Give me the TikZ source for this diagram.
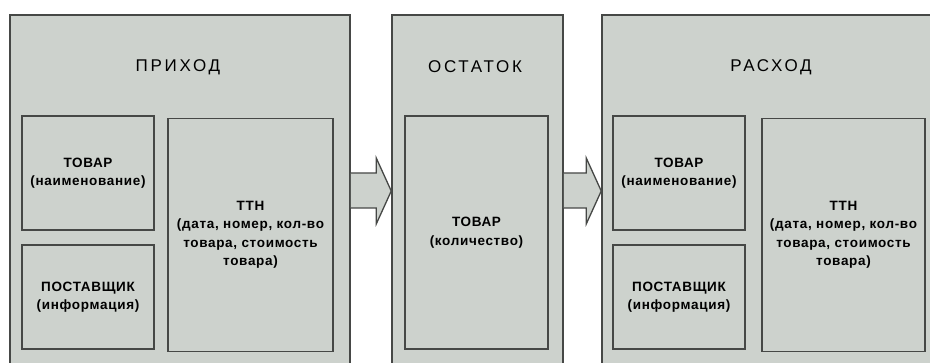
\documentclass[tikz,border=0pt]{standalone}
\usepackage{fontspec}
\setmainfont{Liberation Sans}
\usetikzlibrary{calc}
\definecolor{boxfill}{RGB}{205,210,205}
\definecolor{boxline}{RGB}{70,72,70}
\tikzset{
  outerbox/.style={draw=boxline,fill=boxfill,line width=1.5pt,inner sep=0pt},
  innerbox/.style={draw=boxline,fill=boxfill,line width=1.5pt,inner sep=0pt,align=center,
     font=\fontsize{13.5}{18.5}\selectfont\bfseries\addfontfeatures{LetterSpace=5}},
  titletext/.style={inner sep=0pt,font=\fontsize{17}{20}\selectfont\addfontfeatures{LetterSpace=16}},
  blockarrow/.style={draw=boxline,fill=boxfill,line width=1.3pt,line join=miter}
}
\begin{document}
\begin{tikzpicture}[x=1pt,y=1pt]
\path[fill=white] (0,0) rectangle (930,-363);
\useasboundingbox (0,0) rectangle (930,-363);
\clip (0,0) rectangle (930,-363);
% outer boxes
\node[outerbox,minimum width=340,minimum height=385] (prihod) at (180,-207.5) {};
\node[outerbox,minimum width=171,minimum height=385] (ostatok) at (477.5,-207.5) {};
\node[outerbox,minimum width=340,minimum height=385] (rashod) at (772,-207.5) {};
% titles
\node[titletext] (t1) at (178,-67) {ПРИХОД};
\node[titletext] (t2) at (475,-67) {ОСТАТОК};
\node[titletext] (t3) at (771,-67) {РАСХОД};
% inner boxes, left
\node[innerbox,minimum width=132,minimum height=114] (tov1) at (88,-173) {ТОВАР\\(наименование)};
\node[innerbox,minimum width=132,minimum height=104] (post1) at (88,-297) {ПОСТАВЩИК\\(информация)};
\node[innerbox,minimum width=165,minimum height=233] (ttn1) at (250.5,-235) {ТТН\\(дата, номер, кол-во\\товара, стоимость\\товара)};
% middle
\node[innerbox,minimum width=143,minimum height=233] (ost) at (476.5,-232.5) {ТОВАР\\(количество)};
% right
\node[innerbox,minimum width=132,minimum height=114] (tov3) at (679,-173) {ТОВАР\\(наименование)};
\node[innerbox,minimum width=132,minimum height=104] (post3) at (679,-297) {ПОСТАВЩИК\\(информация)};
\node[innerbox,minimum width=163,minimum height=233] (ttn3) at (843.5,-235) {ТТН\\(дата, номер, кол-во\\товара, стоимость\\товара)};
% arrows
\draw[blockarrow] let \p1=(prihod.east), \p2=(ostatok.west) in
  (\x1,-173pt) -- (\x2-15pt,-173pt) -- (\x2-15pt,-158pt) -- (\x2,-191pt)
  -- (\x2-15pt,-224pt) -- (\x2-15pt,-208pt) -- (\x1,-208pt);
\draw[blockarrow] let \p1=(ostatok.east), \p2=(rashod.west) in
  (\x1,-173pt) -- (\x2-15pt,-173pt) -- (\x2-15pt,-158pt) -- (\x2,-191pt)
  -- (\x2-15pt,-224pt) -- (\x2-15pt,-208pt) -- (\x1,-208pt);
\end{tikzpicture}
\end{document}
